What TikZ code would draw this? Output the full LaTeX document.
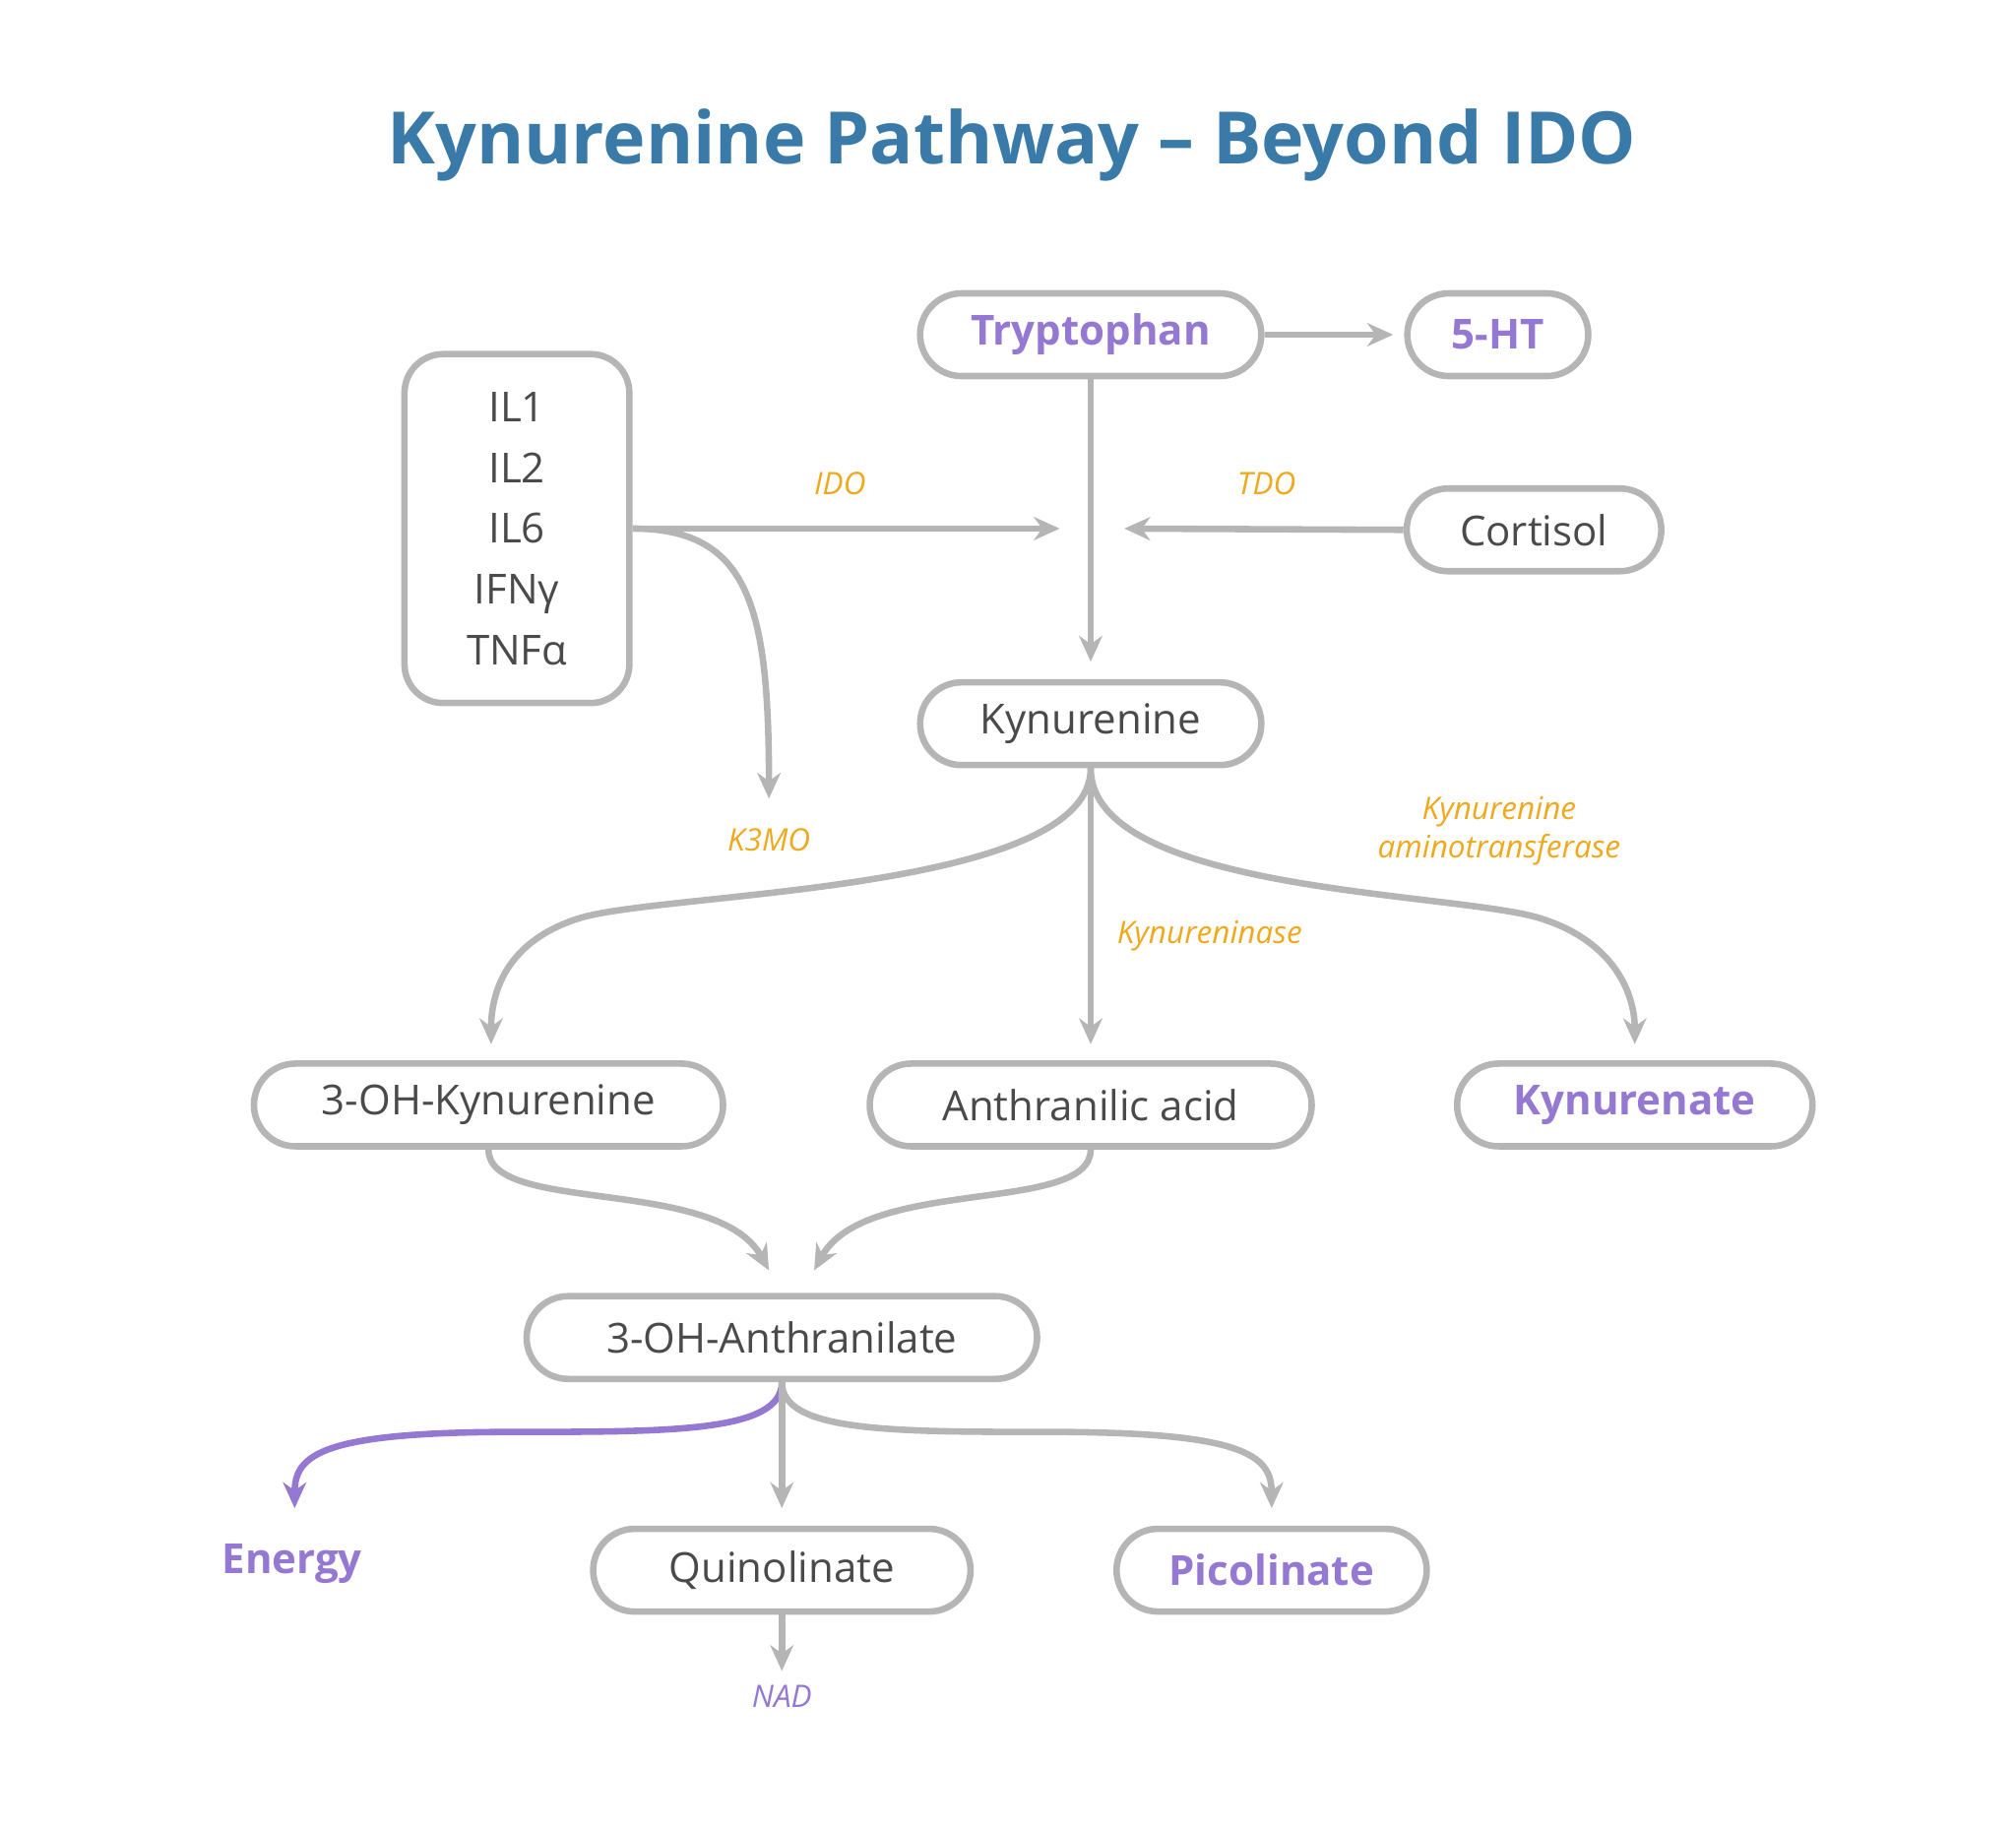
\documentclass[tikz,border=0pt]{standalone}
\usepackage{fontspec}
\setmainfont{Open Sans}
\usetikzlibrary{arrows.meta}
\definecolor{boxg}{HTML}{B5B5B5}
\definecolor{txtg}{HTML}{4A4A4A}
\definecolor{purp}{HTML}{9478D2}
\definecolor{orng}{HTML}{F0A81C}
\definecolor{ttl}{HTML}{3A7AA8}
\tikzset{
 pill/.style={draw=boxg,line width=5pt,rounded corners=32pt,minimum height=64pt,inner sep=0pt,font=\fontsize{32}{38}\selectfont,text=txtg},
 pbold/.style={text=purp,font=\fontsize{32}{38}\selectfont\bfseries},
 enz/.style={text=orng,font=\fontsize{24}{30}\selectfont\itshape,align=center},
 arr/.style={draw=boxg,line width=5pt,-{Stealth[length=20pt,width=18pt]}},
 parr/.style={draw=purp,line width=5pt,-{Stealth[length=20pt,width=18pt]}}
}
\begin{document}
\begin{tikzpicture}[x=1pt,y=-1pt]
\useasboundingbox (0,0) rectangle (1560,1415);
\node[text=ttl,font=\fontsize{56}{64}\selectfont\bfseries] (title) at (783,112) {Kynurenine Pathway – Beyond IDO};
\node[pill,pbold,minimum width=264pt] (trp) at (844,259) {Tryptophan};
\node[pill,pbold,minimum width=140pt] (ht) at (1159,259) {5-HT};
\node[pill,rounded corners=30pt,minimum width=174pt,minimum height=270pt,align=center,font=\fontsize{32}{47}\selectfont] (il) at (400,409) {IL1\\IL2\\IL6\\IFNγ\\TNFα};
\node[pill,minimum width=197pt] (cort) at (1187,410) {Cortisol};
\node[pill,minimum width=264pt] (kyn) at (844,560) {Kynurenine};
\node[pill,minimum width=363pt] (ohk) at (378,855) {3-OH-Kynurenine};
\node[pill,minimum width=342pt] (ant) at (844,855) {Anthranilic acid};
\node[pill,pbold,minimum width=275pt] (kya) at (1265,855) {Kynurenate};
\node[pill,minimum width=395pt] (oha) at (605,1035) {3-OH-Anthranilate};
\node[pill,minimum width=292pt] (qui) at (605,1215) {Quinolinate};
\node[pill,pbold,minimum width=240pt] (pic) at (984,1215) {Picolinate};
\node[pbold] (en) at (226,1210) {Energy};
\node[text=purp,font=\fontsize{24}{30}\selectfont\itshape] (nad) at (605,1313) {NAD};
\node[enz] (ido) at (650,374) {IDO};
\node[enz] (tdo) at (980,374) {TDO};
\node[enz] (k3) at (595,650) {K3MO};
\node[enz] (kse) at (936,724) {Kynureninase};
\node[enz] (kat) at (1160,643) {Kynurenine\\aminotransferase};
\coordinate (c1) at (1078,259);
\coordinate (c2) at (844,512);
\coordinate (c3) at (820,409);
\coordinate (c4) at (870,409);
\coordinate (c5) at (595,618);
\coordinate (c6) at (380,808);
\coordinate (c7) at (844,808);
\coordinate (c8) at (1265,808);
\coordinate (c9) at (595,983);
\coordinate (c10) at (630,983);
\coordinate (c11) at (228,1167);
\coordinate (c12) at (605,1167);
\coordinate (c13) at (984,1167);
\coordinate (c14) at (605,1293);
\draw[arr] (trp.east) -- (c1);
\draw[arr] (trp.south) -- (c2);
\draw[arr] (il.east) -- (c3);
\draw[arr] (cort.west) -- (c4);
\draw[arr] (il.east) .. controls (580,409) and (595,470) .. (c5);
\draw[arr] (kyn.south) .. controls (844,690) and (520,690) .. (450,710) .. controls (390,728) and (380,770) .. (c6);
\draw[arr] (kyn.south) -- (c7);
\draw[arr] (kyn.south) .. controls (844,690) and (1120,690) .. (1190,710) .. controls (1250,728) and (1265,770) .. (c8);
\draw[arr] (ohk.south) .. controls (378,940) and (555,910) .. (c9);
\draw[arr] (ant.south) .. controls (844,940) and (670,910) .. (c10);
\draw[parr] (oha.south) .. controls (605,1108) and (520,1108) .. (400,1108) .. controls (250,1108) and (228,1125) .. (c11);
\draw[arr] (oha.south) -- (c12);
\draw[arr] (oha.south) .. controls (605,1108) and (690,1108) .. (810,1108) .. controls (960,1108) and (984,1125) .. (c13);
\draw[arr] (qui.south) -- (c14);
\end{tikzpicture}
\end{document}
